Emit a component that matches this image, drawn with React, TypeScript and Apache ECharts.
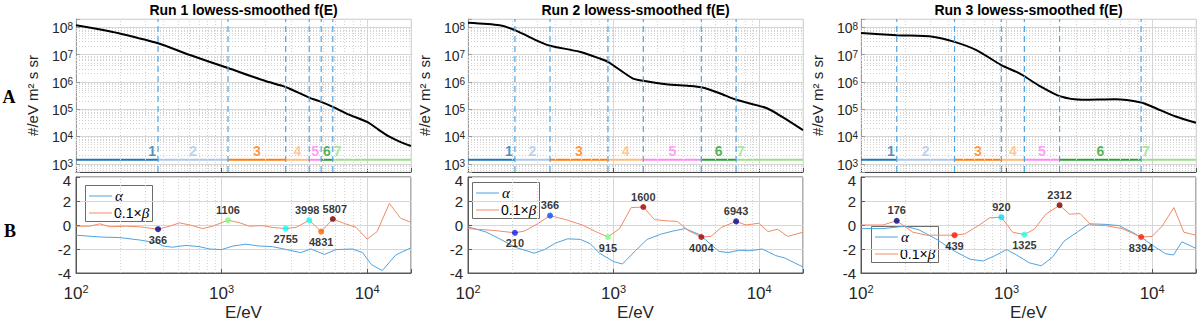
import React, { useEffect, useRef } from 'react';
import * as echarts from 'echarts';

// ---------- data ----------
const X_MIN = 100;
const X_MAX = 20000;
const Y_TOP_MIN = 500;
const Y_TOP_MAX = 2e8;
const SEG_LEVEL = 1400;

const TITLES = ['Run 1 lowess-smoothed f(E)', 'Run 2 lowess-smoothed f(E)', 'Run 3 lowess-smoothed f(E)'];
const SEG_NAMES = ['1', '2', '3', '4', '5', '6', '7'];
const SEG_COLORS = ['#1f77b4', '#aec7e8', '#ff7f0e', '#ffbb78', '#ff88f5', '#2ca02c', '#98df8a'];

// Run 1
const run1E = [100, 150, 200, 366, 600, 1106, 2000, 2755, 3998, 4831, 5807, 7500, 10000, 12000, 14000, 16700, 20000];
const run1F = [1.17e8, 8.1e7, 5.9e7, 2.6e7, 9.8e6, 3.2e6, 1.07e6, 6.5e5, 2.65e5, 1.85e5, 1.22e5, 6.3e4, 3.4e4, 1.75e4, 1.02e4, 6.5e3, 4.5e3];
const run1Bounds = [366, 1106, 2755, 3998, 4831, 5807];
const run1MarkColors = ['#00008f', '#80ff80', '#00ffff', '#10ffef', '#ff6000', '#800000'];
const run1MarkSides = ['bottom', 'top', 'bottom', 'top', 'bottom', 'top'];
const run1AlphaE = [100, 146, 200, 274, 366, 395, 460, 570, 700, 830, 1000, 1200, 1470, 1800, 2230, 2800, 3500, 4100, 5100, 6100, 7900, 9300, 10700, 12700, 15700, 20000];
const run1AlphaV = [-0.85, -1.0, -1.05, -1.25, -1.5, -1.75, -1.85, -1.7, -1.8, -2.0, -2.05, -1.75, -1.6, -1.75, -1.8, -2.05, -2.3, -2.0, -2.45, -2.05, -2.0, -2.3, -3.3, -3.8, -2.5, -1.9];
const run1BetaE = [100, 124, 146, 171, 222, 274, 366, 440, 515, 630, 740, 870, 1106, 1320, 1550, 1900, 2230, 2755, 3250, 3998, 4831, 5807, 7100, 8400, 10000, 11700, 14200, 17000, 19300, 20000];
const run1BetaV = [-0.1, -0.1, 0.1, -0.15, -0.1, -0.15, -0.35, -0.1, 0.18, -0.05, -0.3, -0.1, 0.4, 0.2, -0.1, -0.05, -0.2, -0.3, -0.2, 0.4, -0.55, 0.5, 0.1, -0.2, -1.17, -0.55, 1.8, 0.55, 0.3, 0.25];

// Run 2
const run2E = [100, 165, 210, 311, 366, 585, 800, 915, 1350, 1600, 2300, 3300, 4004, 5300, 6943, 11200, 14400, 20000];
const run2F = [1.45e8, 1.17e8, 7.8e7, 2.9e7, 2.1e7, 1.26e7, 7.2e6, 5.4e6, 1.35e6, 1.1e6, 8.1e5, 7.1e5, 6.3e5, 3.9e5, 2.2e5, 1.1e5, 5.2e4, 1.7e4];
const run2Bounds = [210, 366, 915, 1600, 4004, 6943];
const run2MarkColors = ['#0020ff', '#0050ff', '#80ff80', '#9f0000', '#a00000', '#000090'];
const run2MarkSides = ['bottom', 'top', 'bottom', 'top', 'bottom', 'top'];
const run2AlphaE = [100, 134, 165, 210, 285, 335, 400, 485, 590, 690, 800, 1000, 1150, 1410, 1700, 2130, 2570, 3100, 3900, 4540, 5300, 6100, 7300, 8600, 10500, 13000, 15000, 20000];
const run2AlphaV = [-0.15, -0.6, -1.15, -1.85, -2.35, -2.05, -1.5, -1.15, -1.2, -1.55, -2.35, -3.05, -3.25, -2.15, -1.2, -0.75, -0.5, -0.3, -0.8, -1.5, -2.2, -2.3, -2.1, -2.15, -2.0, -2.55, -2.75, -3.5];
const run2BetaE = [100, 150, 210, 245, 300, 366, 485, 610, 770, 915, 1100, 1320, 1600, 1910, 2300, 2740, 3300, 4004, 4660, 5500, 6943, 8100, 9960, 11500, 13400, 15700, 20000];
const run2BetaV = [-0.3, -0.45, -0.65, -0.5, 0.1, 0.78, 0.4, 0.0, -0.6, -1.0, -0.3, 1.45, 1.5, 0.45, 0.35, 0.3, -0.5, -1.0, -0.95, -0.2, 0.3, 0.0, 0.15, -0.55, -0.35, -0.95, -0.6];

// Run 3
const run3E = [100, 176, 311, 439, 620, 920, 1170, 1325, 1680, 2312, 3300, 5600, 8394, 10000, 14500, 20000];
const run3F = [6.2e7, 5.1e7, 4.5e7, 2.9e7, 1.45e7, 4.1e6, 2.3e6, 1.6e6, 7.1e5, 3.0e5, 2.2e5, 2.3e5, 1.75e5, 1.23e5, 5.4e4, 3.2e4];
const run3Bounds = [176, 439, 920, 1325, 2312, 8394];
const run3MarkColors = ['#000080', '#ff1000', '#00e0ff', '#20ffdf', '#800000', '#ff1a00'];
const run3MarkSides = ['top', 'bottom', 'top', 'bottom', 'top', 'bottom'];
const run3AlphaE = [100, 141, 200, 250, 337, 427, 560, 690, 850, 1000, 1190, 1430, 1730, 2060, 2480, 3050, 3700, 4800, 5900, 7300, 8700, 10500, 12400, 14000, 16000, 20000];
const run3AlphaV = [-0.3, -0.3, -0.1, -0.4, -1.25, -2.1, -2.85, -3.0, -2.5, -2.05, -2.55, -3.15, -3.4, -2.7, -1.35, -0.6, 0.1, 0.05, -0.05, -0.6, -1.15, -1.85, -2.4, -2.5, -1.4, -1.95];
const run3BetaE = [100, 141, 176, 227, 282, 439, 515, 650, 764, 920, 1100, 1325, 1550, 1860, 2312, 2700, 3200, 3800, 4800, 6200, 8394, 10000, 11700, 14100, 16500, 20000];
const run3BetaV = [0.0, 0.0, 0.35, -0.6, -0.85, -0.85, -0.75, 0.0, 0.6, 0.65, -0.6, -0.8, -0.35, 0.9, 1.65, 0.9, 0.95, 0.0, -0.05, -0.3, -1.0, -0.95, -0.1, 1.45, -0.6, -0.85];

const RUNS = [
  { fE: run1E, fV: run1F, bounds: run1Bounds, mColors: run1MarkColors, mSides: run1MarkSides, aE: run1AlphaE, aV: run1AlphaV, bE: run1BetaE, bV: run1BetaV },
  { fE: run2E, fV: run2F, bounds: run2Bounds, mColors: run2MarkColors, mSides: run2MarkSides, aE: run2AlphaE, aV: run2AlphaV, bE: run2BetaE, bV: run2BetaV },
  { fE: run3E, fV: run3F, bounds: run3Bounds, mColors: run3MarkColors, mSides: run3MarkSides, aE: run3AlphaE, aV: run3AlphaV, bE: run3BetaE, bV: run3BetaV },
];

// ---------- layout / style ----------
const PANEL_LEFT = [76, 468, 861];
const PANEL_W = 335;
const TOP_Y = 19;
const TOP_H = 153;
const BOT_Y = 177;
const BOT_H = 96;
const LEGEND_POS = [[85, 185], [472, 182], [871, 226]];

const FONT = "'Liberation Sans', Arial, Helvetica, sans-serif";
const SERIF = "'Liberation Serif', 'Times New Roman', serif";
const TXT = '#262626';
const ALPHA_COLOR = '#4fa3e0';
const BETA_COLOR = '#ef8b66';
const GRID_MAJOR = '#d6d6d6';
const GRID_MINOR = '#d2d2d2';
const BOUND_COLOR = '#4fa6e6';

function minorValues(lo: number, hi: number): number[] {
  const out: number[] = [];
  let p = Math.pow(10, Math.floor(Math.log10(lo)));
  while (p < hi) {
    for (let k = 2; k <= 9; k++) {
      const v = k * p;
      if (v > lo && v < hi) out.push(v);
    }
    p *= 10;
  }
  return out;
}

function pow10Label(size: number, supSize: number, pad: number, lh: number) {
  return {
    formatter: (v: number) => {
      const e = Math.log10(v);
      const r = Math.round(e);
      if (Math.abs(e - r) > 1e-6) return '';
      return `{b|10}{s|${r}}`;
    },
    rich: {
      b: { fontSize: size, lineHeight: lh, fontFamily: FONT, color: TXT, padding: [pad, 0, 0, 0] },
      s: { fontSize: supSize, lineHeight: supSize, fontFamily: FONT, color: TXT, verticalAlign: 'top' },
    },
  };
}

function legendGroup(x: number, y: number) {
  return {
    type: 'group',
    x,
    y,
    z: 100,
    children: [
      { type: 'rect', shape: { x: 0.5, y: 0.5, width: 67, height: 36 }, style: { fill: '#fff', stroke: '#6b6b6b', lineWidth: 1 } },
      { type: 'line', shape: { x1: 4, y1: 11, x2: 27, y2: 11 }, style: { stroke: ALPHA_COLOR, lineWidth: 1 } },
      { type: 'text', x: 30, y: 11, style: { text: 'α', fontSize: 15, fontStyle: 'italic', fontFamily: SERIF, fill: '#000', verticalAlign: 'middle' } },
      { type: 'line', shape: { x1: 4, y1: 28, x2: 27, y2: 28 }, style: { stroke: BETA_COLOR, lineWidth: 1 } },
      {
        type: 'text',
        x: 29,
        y: 28,
        style: {
          text: '{n|0.1×}{i|β}',
          verticalAlign: 'middle',
          rich: {
            n: { fontSize: 14, fontFamily: FONT, fill: '#000' },
            i: { fontSize: 15, fontFamily: SERIF, fontStyle: 'italic', fill: '#000' },
          },
        },
      },
    ],
  };
}

// push labels of close neighbouring markers (same side) slightly apart
function labelOffsets(bounds: number[], sides: string[]): number[] {
  const off = bounds.map(() => 0);
  for (let k = 0; k < bounds.length; k++) {
    for (let m = k + 1; m < bounds.length; m++) {
      if (sides[m] !== sides[k]) continue;
      if (Math.log10(bounds[m] / bounds[k]) < 0.175) {
        off[k] -= 2;
        off[m] += 2;
      }
      break;
    }
  }
  return off;
}

function buildOption() {
  const grid: any[] = [];
  const xAxis: any[] = [];
  const yAxis: any[] = [];
  const series: any[] = [];
  const graphic: any[] = [];

  const xMinor = minorValues(X_MIN, X_MAX);
  const yMinor = Array.from(new Set(minorValues(Y_TOP_MIN, Y_TOP_MAX).concat([600, 700, 800, 900].filter((v) => v > Y_TOP_MIN))));

  RUNS.forEach((run, i) => {
    const left = PANEL_LEFT[i];
    const gTop = 2 * i;
    const gBot = 2 * i + 1;

    grid.push({ left, top: TOP_Y, width: PANEL_W, height: TOP_H, show: true, borderColor: '#e2e2e2', borderWidth: 1, containLabel: false, outerBoundsMode: 'none' });
    grid.push({ left, top: BOT_Y, width: PANEL_W, height: BOT_H, show: true, borderColor: '#5a5a5a', borderWidth: 1, containLabel: false, outerBoundsMode: 'none' });

    // top axes
    xAxis.push({
      type: 'log', logBase: 10, gridIndex: gTop, min: X_MIN, max: X_MAX,
      axisLabel: { show: false },
      axisTick: { show: true, inside: true, length: 4, lineStyle: { color: '#555' } },
      axisLine: { show: true, onZero: false, lineStyle: { color: '#444', width: 1 } },
      splitLine: { show: true, lineStyle: { color: GRID_MAJOR, width: 1 } },
      minorTick: { show: false }, minorSplitLine: { show: false },
    });
    yAxis.push({
      type: 'log', logBase: 10, gridIndex: gTop, min: Y_TOP_MIN, max: Y_TOP_MAX,
      axisLine: { show: true, lineStyle: { color: '#9a9a9a' } },
      axisTick: { show: true, inside: true, length: 4, lineStyle: { color: '#9a9a9a' } },
      axisLabel: { margin: 3, ...pow10Label(14, 10, 2, 11) },
      splitLine: { show: true, lineStyle: { color: GRID_MAJOR, width: 1 } },
      minorTick: { show: false }, minorSplitLine: { show: false },
      name: '#/eV m² s sr', nameLocation: 'middle', nameGap: 36,
      nameTextStyle: { fontSize: 15, fontFamily: FONT, color: TXT },
    });
    // bottom axes
    xAxis.push({
      type: 'log', logBase: 10, gridIndex: gBot, min: X_MIN, max: X_MAX,
      axisLabel: { margin: 10, ...pow10Label(17, 11, 4, 17) },
      axisTick: { show: true, inside: true, length: 4, lineStyle: { color: '#555' } },
      axisLine: { show: true, onZero: false, lineStyle: { color: '#5a5a5a' } },
      splitLine: { show: true, lineStyle: { color: GRID_MAJOR, width: 1 } },
      minorTick: { show: false }, minorSplitLine: { show: false },
      name: 'E/eV', nameLocation: 'middle', nameGap: 31,
      nameTextStyle: { fontSize: 17, fontFamily: FONT, color: TXT },
    });
    yAxis.push({
      type: 'value', gridIndex: gBot, min: -4, max: 4, interval: 2,
      axisLine: { show: true, onZero: false, lineStyle: { color: '#5a5a5a' } },
      axisTick: { show: true, inside: true, length: 4, lineStyle: { color: '#5a5a5a' } },
      axisLabel: {
        margin: 5,
        formatter: (v: number) => (v === 4 ? `{t|${v}}` : `{n|${v}}`),
        rich: {
          n: { fontSize: 15, lineHeight: 15, fontFamily: FONT, color: TXT },
          t: { fontSize: 15, lineHeight: 15, fontFamily: FONT, color: TXT, padding: [6, 0, 0, 0] },
        },
      },
      splitLine: { show: true, lineStyle: { color: GRID_MAJOR, width: 1 } },
    });

    const minorLine = { type: [1, 2], color: GRID_MINOR, width: 1 };

    // top: minor grid
    series.push({
      type: 'line', xAxisIndex: gTop, yAxisIndex: gTop, data: [[X_MIN, 1000]],
      showSymbol: false, symbol: 'none', lineStyle: { opacity: 0 }, silent: true, z: 1,
      markLine: {
        silent: true, symbol: ['none', 'none'], label: { show: false }, lineStyle: minorLine, animation: false,
        data: xMinor.map((v) => ({ xAxis: v })).concat(yMinor.map((v) => ({ yAxis: v })) as any),
      },
    });
    // top: boundaries (dashed vertical lines)
    run.bounds.forEach((b) => {
      series.push({
        type: 'line', xAxisIndex: gTop, yAxisIndex: gTop,
        data: [[b, Y_TOP_MIN], [b, Y_TOP_MAX]],
        showSymbol: false, symbol: 'none', silent: true, z: 9,
        itemStyle: { color: BOUND_COLOR },
        lineStyle: { type: [6, 4], color: BOUND_COLOR, width: 1.2, opacity: 1 },
      });
    });
    // top: segments
    const edges = [X_MIN, ...run.bounds, X_MAX];
    SEG_NAMES.forEach((name, k) => {
      series.push({
        type: 'line', name: `seg${name}`, xAxisIndex: gTop, yAxisIndex: gTop,
        data: [[edges[k], SEG_LEVEL], [edges[k + 1], SEG_LEVEL]],
        showSymbol: false, symbol: 'none', itemStyle: { color: SEG_COLORS[k] }, lineStyle: { color: SEG_COLORS[k], width: 2 }, z: 4, silent: true,
      });
    });
    // top: segment labels
    series.push({
      type: 'scatter', xAxisIndex: gTop, yAxisIndex: gTop, symbolSize: 1, itemStyle: { color: 'transparent' }, z: 6, silent: true,
      data: SEG_NAMES.map((name, k) => {
        let x = Math.sqrt(edges[k] * edges[k + 1]);
        let align = 'center';
        let offset = [0, 0];
        if (k === 0) { x = edges[1]; align = 'right'; offset = [-2, 0]; }
        if (k === SEG_NAMES.length - 1) { x = edges[k]; align = 'left'; offset = [1, 0]; }
        return {
          value: [x, SEG_LEVEL], name,
          label: { show: true, position: 'top', distance: 1, align, offset, formatter: name, color: SEG_COLORS[k], fontSize: 14, fontWeight: 'bold', fontFamily: FONT },
        };
      }),
    });
    // top: f(E)
    series.push({
      type: 'line', xAxisIndex: gTop, yAxisIndex: gTop,
      data: run.fE.map((e, j) => [e, run.fV[j]]),
      showSymbol: false, symbol: 'none', smooth: 0.25, itemStyle: { color: '#000' },
      lineStyle: { color: '#000', width: 2 }, z: 8, silent: true,
    });

    // bottom: minor grid
    series.push({
      type: 'line', xAxisIndex: gBot, yAxisIndex: gBot, data: [[X_MIN, 0]],
      showSymbol: false, symbol: 'none', lineStyle: { opacity: 0 }, silent: true, z: 1,
      markLine: {
        silent: true, symbol: ['none', 'none'], label: { show: false }, lineStyle: minorLine, animation: false,
        data: xMinor.map((v) => ({ xAxis: v })),
      },
    });
    series.push({
      type: 'line', name: 'α', xAxisIndex: gBot, yAxisIndex: gBot,
      data: run.aE.map((e, j) => [e, run.aV[j]]),
      showSymbol: false, symbol: 'none', itemStyle: { color: ALPHA_COLOR }, lineStyle: { color: ALPHA_COLOR, width: 1 }, z: 5, silent: true,
    });
    series.push({
      type: 'line', name: '0.1×β', xAxisIndex: gBot, yAxisIndex: gBot,
      data: run.bE.map((e, j) => [e, run.bV[j]]),
      showSymbol: false, symbol: 'none', itemStyle: { color: BETA_COLOR }, lineStyle: { color: BETA_COLOR, width: 1 }, z: 6, silent: true,
    });
    const offs = labelOffsets(run.bounds, run.mSides);
    series.push({
      type: 'scatter', xAxisIndex: gBot, yAxisIndex: gBot, symbolSize: 6, z: 7, silent: true,
      data: run.bounds.map((b, k) => ({
        value: [b, run.bV[run.bE.indexOf(b)]],
        name: String(b),
        itemStyle: { color: run.mColors[k] },
        label: { show: true, position: run.mSides[k], distance: 2, offset: [offs[k], 0], formatter: String(b), color: '#000', fontSize: 11, fontWeight: 'bold', fontFamily: FONT },
      })),
    });

    // titles + legends
    graphic.push({
      type: 'text', x: left + PANEL_W / 2, y: 10, z: 100,
      style: { text: TITLES[i], fontSize: 14, fontWeight: 'bold', fontFamily: FONT, fill: '#000', align: 'center', verticalAlign: 'middle' },
    });
    graphic.push(legendGroup(LEGEND_POS[i][0], LEGEND_POS[i][1]));
  });

  graphic.push({ type: 'text', x: 9, y: 97, z: 100, style: { text: 'A', fontSize: 18, fontWeight: 'bold', fontFamily: SERIF, fill: '#000', align: 'center', verticalAlign: 'middle' } });
  graphic.push({ type: 'text', x: 10, y: 231, z: 100, style: { text: 'B', fontSize: 18, fontWeight: 'bold', fontFamily: SERIF, fill: '#000', align: 'center', verticalAlign: 'middle' } });

  return {
    animation: false,
    backgroundColor: '#ffffff',
    textStyle: { fontFamily: FONT },
    grid, xAxis, yAxis, series, graphic,
  };
}

export default function App() {
  const ref = useRef<HTMLDivElement>(null);
  useEffect(() => {
    if (!ref.current) return;
    const chart = echarts.init(ref.current, undefined, { renderer: 'svg' });
    chart.setOption(buildOption() as any);
    return () => chart.dispose();
  }, []);
  return <div ref={ref} style={{ position: 'absolute', left: 0, top: 0, width: 1200, height: 322 }} />;
}
